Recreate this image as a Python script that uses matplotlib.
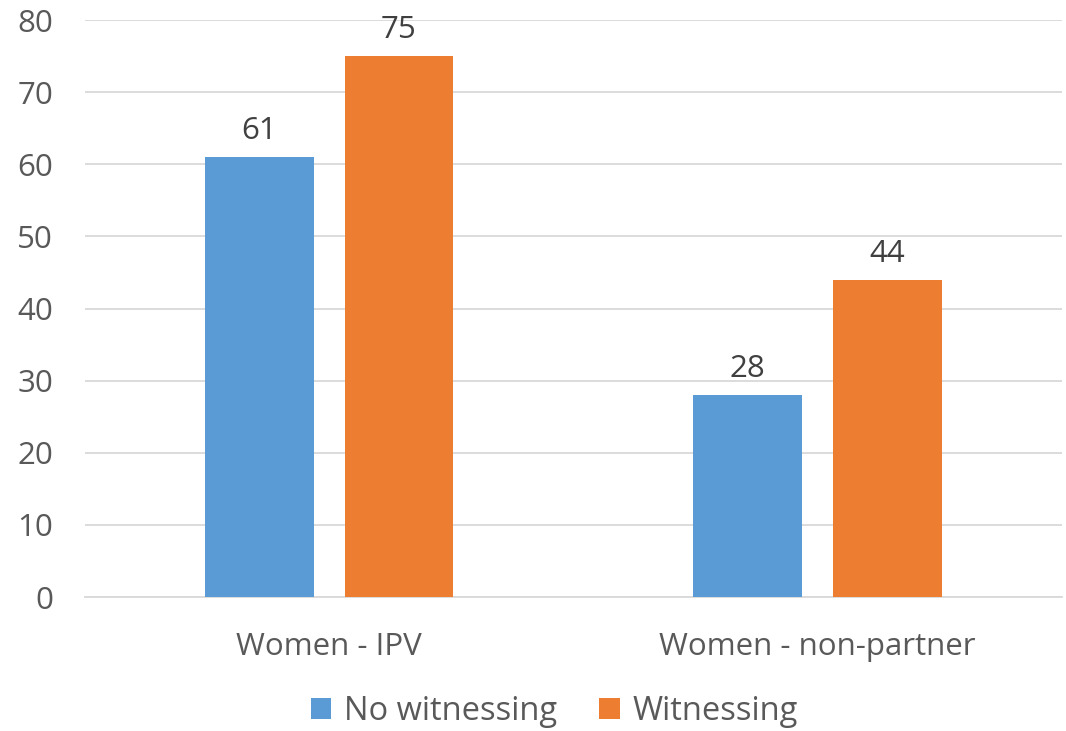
import numpy as np
import matplotlib.pyplot as plt

categories = ['Women - IPV', 'Women - non-partner']
no_witnessing = [61, 28]
witnessing = [75, 44]
series_names = ['No witnessing', 'Witnessing']
yticks = [0, 10, 20, 30, 40, 50, 60, 70, 80]

plt.rcParams['font.family'] = ['Open Sans', 'DejaVu Sans']

blue = '#5B9BD5'
orange = '#ED7D31'
text_grey = '#595959'

fig = plt.figure(figsize=(10.66, 7.31), dpi=100)
ax = fig.add_axes([0.0797, 0.1833, 0.9163, 0.7893])

x = np.arange(len(categories))
width = 0.223
gap = 0.063
b1 = ax.bar(x - (width + gap) / 2, no_witnessing, width, color=blue, label=series_names[0], zorder=3)
b2 = ax.bar(x + (width + gap) / 2, witnessing, width, color=orange, label=series_names[1], zorder=3)

for bars, vals in [(b1, no_witnessing), (b2, witnessing)]:
    for rect, v in zip(bars, vals):
        ax.annotate(str(v), (rect.get_x() + rect.get_width() / 2, v),
                    xytext=(0, 8), textcoords='offset points',
                    ha='center', va='bottom', fontsize=22.5, color='#404040')

ax.set_xlim(-0.5, 1.5)
ax.set_ylim(0, 80)
ax.set_yticks(yticks)
ax.set_xticks(x)
ax.set_xticklabels(categories)
ax.yaxis.grid(True, color='#D9D9D9', linewidth=1.3, zorder=0)
for s in ['top', 'right', 'left']:
    ax.spines[s].set_visible(False)
ax.spines['bottom'].set_color('#D9D9D9')
ax.spines['bottom'].set_linewidth(1.3)
ax.tick_params(axis='both', length=0, labelsize=22.5, colors=text_grey)
ax.tick_params(axis='y', pad=23)
ax.tick_params(axis='x', pad=25)

# legend sits right against the bottom edge
fig.legend(loc='lower center', bbox_to_anchor=(0.52, -0.036), ncol=2, frameon=False,
           fontsize=23.5, labelcolor=text_grey, handlelength=0.62, handleheight=0.62,
           handletextpad=0.4, columnspacing=1.3)

fig.savefig('out.png', dpi=100)
